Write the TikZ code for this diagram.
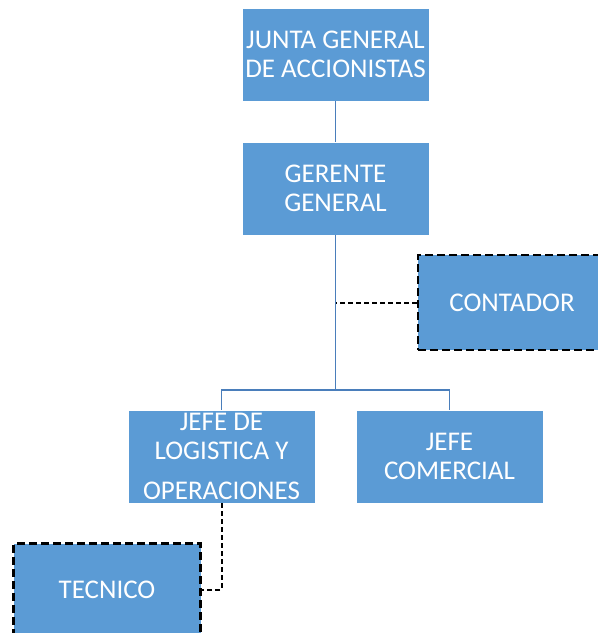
\documentclass[tikz,border=0pt]{standalone}
\usepackage{fontspec}
\setmainfont{Carlito}
\begin{document}
\begin{tikzpicture}[x=1pt,y=-1pt,
  box/.style={rectangle, fill=boxblue, draw=white, line width=0.8pt, minimum width=187pt, minimum height=93pt, inner sep=0pt, text=white, align=center, font=\fontsize{27}{29}\selectfont},
  dbox/.style={box, draw=black, line width=2.4pt, dash pattern=on 8pt off 4pt},
  link/.style={draw=linkblue, line width=1.8pt},
  dlink/.style={draw=black, line width=2pt, dash pattern=on 5pt off 3pt}]
\definecolor{boxblue}{HTML}{5B9BD5}
\definecolor{linkblue}{HTML}{4A7EBB}
\useasboundingbox (0,0) rectangle (598,633);
\clip (0,0) rectangle (598,633);
\node[box] (junta) at (335.5,54.5) {JUNTA GENERAL\\DE ACCIONISTAS};
\node[box] (gerente) at (335.5,188.5) {GERENTE\\GENERAL};
\node[dbox, minimum width=188pt, minimum height=95pt] (contador) at (512,302.5) {CONTADOR};
\node[box] (jl) at (221.5,456.5) {JEFE DE\\LOGISTICA Y\\[11pt]OPERACIONES};
\node[box] (jc) at (449.5,456.5) {JEFE\\COMERCIAL};
\node[dbox] (tecnico) at (107,590) {TECNICO};
\coordinate (bus) at (335.5,390);
\draw[link] (junta.south) -- (gerente.north);
\draw[link] (gerente.south) -- (bus);
\draw[link] (jl.north) |- (bus) -| (jc.north);
\draw[dlink] (contador.west) -- (contador.west -| gerente.south);
\draw[dlink] (jl.south) |- (tecnico.east);
\end{tikzpicture}
\end{document}
